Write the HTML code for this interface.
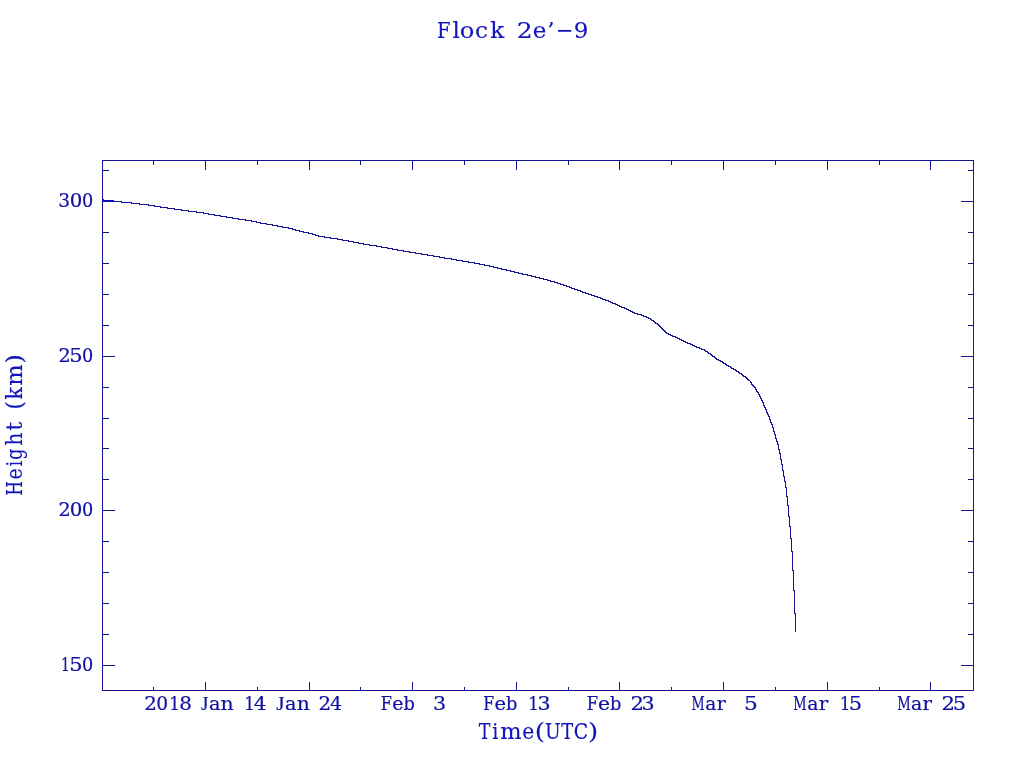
<!DOCTYPE html>
<html><head><meta charset="utf-8"><title>Flock 2e'-9</title>
<style>
html,body{margin:0;padding:0;background:#fff;overflow:hidden}
svg{display:block}
svg text{font-family:"DejaVu Serif", "Liberation Serif", serif;fill:#1010a4;stroke:#1010a4;stroke-width:0.2px;white-space:pre}
svg text.big{fill:#1414bc;stroke:#1414bc;stroke-width:0.15px}
svg rect{shape-rendering:crispEdges}
</style></head>
<body>
<svg width="1024" height="768" viewBox="0 0 1024 768">
<rect x="0" y="0" width="1024" height="768" fill="#ffffff"/>
<rect x="102" y="160" width="872" height="1" fill="#141490"/>
<rect x="102" y="690" width="872" height="1" fill="#141490"/>
<rect x="102" y="160" width="1" height="531" fill="#141490"/>
<rect x="973" y="160" width="1" height="531" fill="#141490"/>
<rect x="102" y="170" width="7" height="1" fill="#141490"/>
<rect x="968" y="170" width="6" height="1" fill="#141490"/>
<rect x="102" y="201" width="13" height="1" fill="#141490"/>
<rect x="961" y="201" width="13" height="1" fill="#141490"/>
<rect x="102" y="232" width="7" height="1" fill="#141490"/>
<rect x="968" y="232" width="6" height="1" fill="#141490"/>
<rect x="102" y="263" width="7" height="1" fill="#141490"/>
<rect x="968" y="263" width="6" height="1" fill="#141490"/>
<rect x="102" y="294" width="7" height="1" fill="#141490"/>
<rect x="968" y="294" width="6" height="1" fill="#141490"/>
<rect x="102" y="325" width="7" height="1" fill="#141490"/>
<rect x="968" y="325" width="6" height="1" fill="#141490"/>
<rect x="102" y="356" width="13" height="1" fill="#141490"/>
<rect x="961" y="356" width="13" height="1" fill="#141490"/>
<rect x="102" y="387" width="7" height="1" fill="#141490"/>
<rect x="968" y="387" width="6" height="1" fill="#141490"/>
<rect x="102" y="418" width="7" height="1" fill="#141490"/>
<rect x="968" y="418" width="6" height="1" fill="#141490"/>
<rect x="102" y="448" width="7" height="1" fill="#141490"/>
<rect x="968" y="448" width="6" height="1" fill="#141490"/>
<rect x="102" y="479" width="7" height="1" fill="#141490"/>
<rect x="968" y="479" width="6" height="1" fill="#141490"/>
<rect x="102" y="510" width="13" height="1" fill="#141490"/>
<rect x="961" y="510" width="13" height="1" fill="#141490"/>
<rect x="102" y="541" width="7" height="1" fill="#141490"/>
<rect x="968" y="541" width="6" height="1" fill="#141490"/>
<rect x="102" y="572" width="7" height="1" fill="#141490"/>
<rect x="968" y="572" width="6" height="1" fill="#141490"/>
<rect x="102" y="603" width="7" height="1" fill="#141490"/>
<rect x="968" y="603" width="6" height="1" fill="#141490"/>
<rect x="102" y="634" width="7" height="1" fill="#141490"/>
<rect x="968" y="634" width="6" height="1" fill="#141490"/>
<rect x="102" y="665" width="13" height="1" fill="#141490"/>
<rect x="961" y="665" width="13" height="1" fill="#141490"/>
<rect x="153" y="160" width="1" height="5" fill="#141490"/>
<rect x="153" y="687" width="1" height="4" fill="#141490"/>
<rect x="205" y="160" width="1" height="10" fill="#141490"/>
<rect x="205" y="682" width="1" height="9" fill="#141490"/>
<rect x="257" y="160" width="1" height="5" fill="#141490"/>
<rect x="257" y="687" width="1" height="4" fill="#141490"/>
<rect x="309" y="160" width="1" height="10" fill="#141490"/>
<rect x="309" y="682" width="1" height="9" fill="#141490"/>
<rect x="360" y="160" width="1" height="5" fill="#141490"/>
<rect x="360" y="687" width="1" height="4" fill="#141490"/>
<rect x="412" y="160" width="1" height="10" fill="#141490"/>
<rect x="412" y="682" width="1" height="9" fill="#141490"/>
<rect x="464" y="160" width="1" height="5" fill="#141490"/>
<rect x="464" y="687" width="1" height="4" fill="#141490"/>
<rect x="516" y="160" width="1" height="10" fill="#141490"/>
<rect x="516" y="682" width="1" height="9" fill="#141490"/>
<rect x="568" y="160" width="1" height="5" fill="#141490"/>
<rect x="568" y="687" width="1" height="4" fill="#141490"/>
<rect x="619" y="160" width="1" height="10" fill="#141490"/>
<rect x="619" y="682" width="1" height="9" fill="#141490"/>
<rect x="671" y="160" width="1" height="5" fill="#141490"/>
<rect x="671" y="687" width="1" height="4" fill="#141490"/>
<rect x="723" y="160" width="1" height="10" fill="#141490"/>
<rect x="723" y="682" width="1" height="9" fill="#141490"/>
<rect x="775" y="160" width="1" height="5" fill="#141490"/>
<rect x="775" y="687" width="1" height="4" fill="#141490"/>
<rect x="827" y="160" width="1" height="10" fill="#141490"/>
<rect x="827" y="682" width="1" height="9" fill="#141490"/>
<rect x="879" y="160" width="1" height="5" fill="#141490"/>
<rect x="879" y="687" width="1" height="4" fill="#141490"/>
<rect x="930" y="160" width="1" height="10" fill="#141490"/>
<rect x="930" y="682" width="1" height="9" fill="#141490"/>
<path d="M103 199h1v1h-1zM103 200h11v1h-11zM113 201h9v1h-9zM121 202h11v1h-11zM131 203h9v1h-9zM139 204h10v1h-10zM148 205h7v1h-7zM154 206h7v1h-7zM160 207h8v1h-8zM167 208h8v1h-8zM174 209h8v1h-8zM181 210h8v1h-8zM188 211h9v1h-9zM196 212h8v1h-8zM203 213h6v1h-6zM208 214h7v1h-7zM214 215h7v1h-7zM220 216h7v1h-7zM226 217h7v1h-7zM232 218h7v1h-7zM238 219h8v1h-8zM245 220h7v1h-7zM251 221h6v1h-6zM256 222h5v1h-5zM260 223h7v1h-7zM266 224h7v1h-7zM272 225h6v1h-6zM277 226h6v1h-6zM282 227h7v1h-7zM288 228h5v1h-5zM292 229h4v1h-4zM295 230h5v1h-5zM299 231h5v1h-5zM303 232h6v1h-6zM308 233h5v1h-5zM312 234h4v1h-4zM315 235h4v1h-4zM318 236h7v1h-7zM324 237h7v1h-7zM330 238h8v1h-8zM337 239h6v1h-6zM342 240h7v1h-7zM348 241h6v1h-6zM353 242h6v1h-6zM358 243h6v1h-6zM363 244h7v1h-7zM369 245h8v1h-8zM376 246h6v1h-6zM381 247h7v1h-7zM387 248h6v1h-6zM392 249h6v1h-6zM397 250h7v1h-7zM403 251h7v1h-7zM409 252h7v1h-7zM415 253h7v1h-7zM421 254h7v1h-7zM427 255h7v1h-7zM433 256h7v1h-7zM439 257h6v1h-6zM444 258h8v1h-8zM451 259h6v1h-6zM456 260h7v1h-7zM462 261h7v1h-7zM468 262h7v1h-7zM474 263h6v1h-6zM479 264h6v1h-6zM484 265h6v1h-6zM489 266h5v1h-5zM493 267h5v1h-5zM497 268h5v1h-5zM501 269h6v1h-6zM506 270h5v1h-5zM510 271h5v1h-5zM514 272h5v1h-5zM518 273h5v1h-5zM522 274h6v1h-6zM527 275h5v1h-5zM531 276h5v1h-5zM535 277h5v1h-5zM539 278h5v1h-5zM543 279h5v1h-5zM547 280h4v1h-4zM550 281h5v1h-5zM554 282h4v1h-4zM557 283h4v1h-4zM560 284h4v1h-4zM563 285h4v1h-4zM566 286h4v1h-4zM569 287h3v1h-3zM571 288h4v1h-4zM574 289h4v1h-4zM577 290h4v1h-4zM580 291h3v1h-3zM582 292h4v1h-4zM585 293h4v1h-4zM588 294h4v1h-4zM591 295h4v1h-4zM594 296h4v1h-4zM597 297h4v1h-4zM600 298h3v1h-3zM602 299h4v1h-4zM605 300h4v1h-4zM608 301h3v1h-3zM610 302h3v1h-3zM612 303h4v1h-4zM615 304h3v1h-3zM617 305h3v1h-3zM619 306h3v1h-3zM621 307h4v1h-4zM624 308h3v1h-3zM626 309h3v1h-3zM628 310h3v1h-3zM630 311h3v1h-3zM632 312h3v1h-3zM634 313h4v1h-4zM637 314h5v1h-5zM641 315h3v1h-3zM643 316h4v1h-4zM646 317h3v1h-3zM648 318h3v1h-3zM650 319h2v1h-2zM651 320h3v1h-3zM653 321h2v1h-2zM654 322h2v1h-2zM655 323h3v1h-3zM657 324h2v1h-2zM658 325h2v1h-2zM659 326h2v1h-2zM660 327h2v1h-2zM661 328h2v1h-2zM662 329h2v1h-2zM663 330h2v1h-2zM664 331h2v1h-2zM665 332h2v1h-2zM666 333h3v1h-3zM668 334h3v1h-3zM670 335h3v1h-3zM672 336h4v1h-4zM675 337h3v1h-3zM677 338h3v1h-3zM679 339h3v1h-3zM681 340h3v1h-3zM683 341h3v1h-3zM685 342h3v1h-3zM687 343h4v1h-4zM690 344h3v1h-3zM692 345h3v1h-3zM694 346h3v1h-3zM696 347h4v1h-4zM699 348h3v1h-3zM701 349h4v1h-4zM704 350h2v1h-2zM705 351h3v1h-3zM707 352h2v1h-2zM708 353h3v1h-3zM710 354h2v1h-2zM711 355h2v1h-2zM712 356h3v1h-3zM714 357h2v1h-2zM715 358h2v1h-2zM716 359h3v1h-3zM718 360h3v1h-3zM720 361h3v1h-3zM722 362h2v1h-2zM723 363h3v1h-3zM725 364h2v1h-2zM726 365h3v1h-3zM728 366h3v1h-3zM730 367h2v1h-2zM731 368h3v1h-3zM733 369h3v1h-3zM735 370h2v1h-2zM736 371h3v1h-3zM738 372h2v1h-2zM739 373h3v1h-3zM741 374h2v1h-2zM742 375h2v1h-2zM743 376h3v1h-3zM745 377h2v1h-2zM746 378h2v1h-2zM747 379h2v1h-2zM748 380h2v1h-2zM750 381h1v1h-1zM750 382h2v1h-2zM751 383h1v1h-1zM751 384h2v1h-2zM752 385h2v1h-2zM753 386h2v1h-2zM754 387h2v1h-2zM755 388h1v1h-1zM755 389h2v1h-2zM756 390h1v1h-1zM756 391h2v1h-2zM757 392h2v1h-2zM758 393h1v1h-1zM758 394h2v1h-2zM759 395h1v1h-1zM759 396h2v1h-2zM760 397h1v1h-1zM760 398h2v1h-2zM761 399h1v1h-1zM761 400h2v1h-2zM762 401h1v1h-1zM762 402h2v1h-2zM763 403h1v2h-1zM763 405h2v1h-2zM764 406h1v1h-1zM764 407h2v1h-2zM765 408h1v1h-1zM765 409h2v1h-2zM766 410h1v2h-1zM766 412h2v1h-2zM767 413h1v1h-1zM767 414h2v1h-2zM768 415h1v1h-1zM768 416h2v1h-2zM769 417h1v2h-1zM769 419h2v1h-2zM770 420h1v2h-1zM770 422h2v1h-2zM771 423h1v1h-1zM771 424h2v1h-2zM772 425h1v2h-1zM772 427h2v1h-2zM773 428h1v3h-1zM773 431h2v1h-2zM774 432h1v2h-1zM774 434h2v1h-2zM775 435h1v3h-1zM775 438h2v1h-2zM776 439h1v2h-1zM776 441h2v1h-2zM777 442h1v2h-1zM777 444h2v1h-2zM778 445h1v4h-1zM778 449h2v1h-2zM779 450h1v3h-1zM779 453h2v1h-2zM780 454h1v5h-1zM780 459h2v1h-2zM781 460h1v4h-1zM781 464h2v1h-2zM782 465h1v5h-1zM782 470h2v1h-2zM783 471h1v5h-1zM783 476h2v1h-2zM784 477h1v4h-1zM784 481h2v1h-2zM785 482h1v5h-1zM785 487h2v1h-2zM786 488h1v8h-1zM786 496h2v1h-2zM787 497h1v8h-1zM787 505h2v1h-2zM788 506h1v10h-1zM788 516h2v1h-2zM789 517h1v9h-1zM789 526h2v1h-2zM790 527h1v11h-1zM790 538h2v1h-2zM791 539h1v12h-1zM791 551h2v1h-2zM792 552h1v18h-1zM792 570h2v1h-2zM793 571h1v19h-1zM793 590h2v1h-2zM794 591h1v22h-1zM794 613h2v1h-2zM795 614h1v18h-1z" fill="#141490" shape-rendering="crispEdges"/>
<rect x="103" y="200" width="10" height="2" fill="#0c0cc4"/>
<text class="big" x="437.02 452.48 459.89 474.96 490.27 504.53 516.80 532.82 547.23 555.68 573.86" y="37.6" font-size="23.0" xml:space="preserve"><tspan textLength="13.61" lengthAdjust="spacingAndGlyphs">F</tspan>l<tspan textLength="14.57" lengthAdjust="spacingAndGlyphs">o</tspan>ck <tspan textLength="15.90" lengthAdjust="spacingAndGlyphs">2</tspan>e’<tspan textLength="17.53" lengthAdjust="spacingAndGlyphs">−</tspan>9</text>
<text x="58.33 69.69 82.10" y="207" font-size="17.7" xml:space="preserve"><tspan textLength="11.85" lengthAdjust="spacingAndGlyphs">3</tspan><tspan textLength="12.63" lengthAdjust="spacingAndGlyphs">0</tspan>0</text>
<text x="58.44 69.21 82.10" y="362" font-size="17.7" xml:space="preserve"><tspan textLength="12.25" lengthAdjust="spacingAndGlyphs">2</tspan><tspan textLength="13.42" lengthAdjust="spacingAndGlyphs">5</tspan>0</text>
<text x="58.44 69.69 82.10" y="516" font-size="17.7" xml:space="preserve"><tspan textLength="12.25" lengthAdjust="spacingAndGlyphs">2</tspan><tspan textLength="12.63" lengthAdjust="spacingAndGlyphs">0</tspan>0</text>
<text x="61.06 69.21 82.10" y="671" font-size="17.7" xml:space="preserve"><tspan textLength="8.81" lengthAdjust="spacingAndGlyphs">1</tspan><tspan textLength="13.42" lengthAdjust="spacingAndGlyphs">5</tspan>0</text>
<text x="144.24 156.27 169.20 179.27 190.24 200.98 209.04 220.51 231.49 244.20 253.78" y="710" font-size="17.7" xml:space="preserve"><tspan textLength="12.72" lengthAdjust="spacingAndGlyphs">2</tspan><tspan textLength="11.87" lengthAdjust="spacingAndGlyphs">0</tspan><tspan textLength="10.69" lengthAdjust="spacingAndGlyphs">1</tspan><tspan textLength="12.68" lengthAdjust="spacingAndGlyphs">8</tspan> <tspan font-family="Liberation Serif, serif" font-size="19.0">J</tspan><tspan textLength="11.51" lengthAdjust="spacingAndGlyphs">a</tspan><tspan textLength="13.16" lengthAdjust="spacingAndGlyphs">n</tspan> <tspan textLength="10.69" lengthAdjust="spacingAndGlyphs">1</tspan><tspan textLength="12.84" lengthAdjust="spacingAndGlyphs">4</tspan></text>
<text x="276.30 285.14 296.66 307.64 318.55 329.91" y="710" font-size="17.7" xml:space="preserve"><tspan font-family="Liberation Serif, serif" font-size="19.0" textLength="8.41" lengthAdjust="spacingAndGlyphs">J</tspan><tspan textLength="11.51" lengthAdjust="spacingAndGlyphs">a</tspan><tspan textLength="13.16" lengthAdjust="spacingAndGlyphs">n</tspan> <tspan textLength="12.65" lengthAdjust="spacingAndGlyphs">2</tspan><tspan textLength="12.15" lengthAdjust="spacingAndGlyphs">4</tspan></text>
<text x="380.86 392.30 403.42 414.40 419.71 432.93" y="710" font-size="17.7" xml:space="preserve"><tspan textLength="11.22" lengthAdjust="spacingAndGlyphs">F</tspan><tspan textLength="11.24" lengthAdjust="spacingAndGlyphs">e</tspan>b  <tspan textLength="13.10" lengthAdjust="spacingAndGlyphs">3</tspan></text>
<text x="483.23 494.43 506.12 517.10 528.37 537.53" y="710" font-size="17.7" xml:space="preserve"><tspan textLength="10.93" lengthAdjust="spacingAndGlyphs">F</tspan><tspan textLength="11.54" lengthAdjust="spacingAndGlyphs">e</tspan>b <tspan textLength="10.60" lengthAdjust="spacingAndGlyphs">1</tspan><tspan textLength="13.10" lengthAdjust="spacingAndGlyphs">3</tspan></text>
<text x="586.85 597.99 609.95 620.92 630.46 641.53" y="710" font-size="17.7" xml:space="preserve"><tspan textLength="11.34" lengthAdjust="spacingAndGlyphs">F</tspan><tspan textLength="12.02" lengthAdjust="spacingAndGlyphs">e</tspan>b <tspan textLength="13.53" lengthAdjust="spacingAndGlyphs">2</tspan><tspan textLength="13.10" lengthAdjust="spacingAndGlyphs">3</tspan></text>
<text x="691.46 705.32 716.81 727.79 733.10 744.05" y="710" font-size="17.7" xml:space="preserve"><tspan textLength="13.20" lengthAdjust="spacingAndGlyphs">M</tspan><tspan textLength="11.11" lengthAdjust="spacingAndGlyphs">a</tspan><tspan textLength="9.09" lengthAdjust="spacingAndGlyphs">r</tspan>  <tspan textLength="13.89" lengthAdjust="spacingAndGlyphs">5</tspan></text>
<text x="793.35 807.31 818.78 829.76 839.70 848.71" y="710" font-size="17.7" xml:space="preserve"><tspan textLength="13.42" lengthAdjust="spacingAndGlyphs">M</tspan><tspan textLength="11.22" lengthAdjust="spacingAndGlyphs">a</tspan><tspan textLength="9.47" lengthAdjust="spacingAndGlyphs">r</tspan> <tspan textLength="10.69" lengthAdjust="spacingAndGlyphs">1</tspan><tspan textLength="13.42" lengthAdjust="spacingAndGlyphs">5</tspan></text>
<text x="897.34 911.06 922.53 933.51 941.56 952.71" y="710" font-size="17.7" xml:space="preserve"><tspan textLength="13.58" lengthAdjust="spacingAndGlyphs">M</tspan><tspan textLength="11.22" lengthAdjust="spacingAndGlyphs">a</tspan><tspan textLength="9.47" lengthAdjust="spacingAndGlyphs">r</tspan> <tspan textLength="13.53" lengthAdjust="spacingAndGlyphs">2</tspan><tspan textLength="13.42" lengthAdjust="spacingAndGlyphs">5</tspan></text>
<text class="big" x="478.63 492.21 500.23 522.19 534.72 545.03 561.33 573.84 588.04" y="738.8" font-size="22.5" xml:space="preserve"><tspan textLength="11.64" lengthAdjust="spacingAndGlyphs">T</tspan><tspan textLength="6.13" lengthAdjust="spacingAndGlyphs">i</tspan>m<tspan textLength="12.02" lengthAdjust="spacingAndGlyphs">e</tspan><tspan textLength="10.25" lengthAdjust="spacingAndGlyphs">(</tspan><tspan textLength="15.71" lengthAdjust="spacingAndGlyphs">U</tspan><tspan textLength="11.95" lengthAdjust="spacingAndGlyphs">T</tspan><tspan textLength="14.38" lengthAdjust="spacingAndGlyphs">C</tspan><tspan textLength="10.23" lengthAdjust="spacingAndGlyphs">)</tspan></text>
<text class="big" x="-0.83 15.45 28.55 35.34 49.16 64.24 78.19 85.55 95.51 109.28 131.26" y="0" font-size="22.5" xml:space="preserve" transform="translate(22.0,495) rotate(-90)"><tspan textLength="14.65" lengthAdjust="spacingAndGlyphs">H</tspan><tspan textLength="11.24" lengthAdjust="spacingAndGlyphs">e</tspan><tspan textLength="5.76" lengthAdjust="spacingAndGlyphs">i</tspan><tspan textLength="11.07" lengthAdjust="spacingAndGlyphs">g</tspan><tspan textLength="13.21" lengthAdjust="spacingAndGlyphs">h</tspan>t <tspan textLength="8.14" lengthAdjust="spacingAndGlyphs">(</tspan><tspan textLength="12.35" lengthAdjust="spacingAndGlyphs">k</tspan>m<tspan textLength="9.58" lengthAdjust="spacingAndGlyphs">)</tspan></text>
</svg>
</body></html>
